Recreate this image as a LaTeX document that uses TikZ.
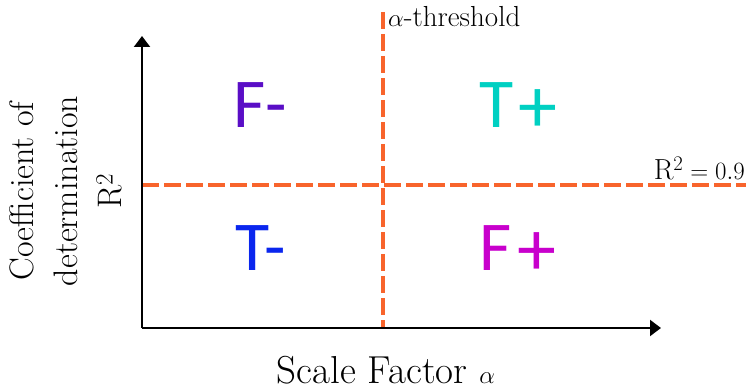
\documentclass[tikz,border=0pt]{standalone}
\usepackage{fontspec}
\newfontfamily\quadfont{Carlito}
\usetikzlibrary{arrows.meta,positioning}
\definecolor{thresh}{HTML}{F8642C}
\definecolor{fneg}{HTML}{5A0EC6}
\definecolor{tpos}{HTML}{00D0C2}
\definecolor{tneg}{HTML}{0A26EE}
\definecolor{fpos}{HTML}{C800CC}
\newcommand{\bigplus}{\raisebox{-5pt}{\fontsize{78}{78}\selectfont+}}

\begin{document}
\begin{tikzpicture}[x=1pt, y=-1pt,
  axis/.style={line width=2pt, -{Triangle[length=11pt,width=16pt]}},
  cut/.style={thresh, line width=3.5pt, dash pattern=on 17pt off 5pt},
  quad/.style={font=\quadfont\fontsize{70}{70}\selectfont, anchor=base},
  lbl/.style={font=\fontsize{29}{32}\selectfont}]
\useasboundingbox (0,0) rectangle (750,390);
% frame points
\coordinate (O) at (142,328);
\coordinate (xend) at (661,328);
\coordinate (yend) at (142,36);
\coordinate (vtop) at (383,12);
\coordinate (vbot) at (383,328);
\coordinate (hleft) at (142,185);
\coordinate (hright) at (746,185);
% thresholds
\draw[cut] (vtop) -- (vbot);
\draw[cut] (hleft) -- (hright);
% axes
\draw[axis] (O) -- (yend);
\draw[axis] (O) -- (xend);
% threshold labels
\node[lbl, anchor=base west, inner sep=0pt] (athr) at (388,27) {$\alpha$-threshold};
\node[lbl, anchor=base east, inner sep=0pt] (rthr) at (745,180) {R$^2=0.9$};
% axis labels
\node[font=\fontsize{39}{42}\selectfont, anchor=base, inner sep=0pt] (xlab) at (386,383) {Scale Factor $\alpha$};
\node[font=\fontsize{34}{44}\selectfont, rotate=90, align=center, inner sep=0pt] (ylab) at (66,191) {Coefficient of\\determination\\R$^2$};
% quadrants
\node[quad, text=fneg] (fn) at (260,128) {F-};
\node[quad, text=tpos] (tp) at (518,128) {T\kern5pt\bigplus};
\node[quad, text=tneg] (tn) at (261,271) {T-};
\node[quad, text=fpos] (fp) at (518,271) {F\kern5pt\bigplus};
\end{tikzpicture}
\end{document}
